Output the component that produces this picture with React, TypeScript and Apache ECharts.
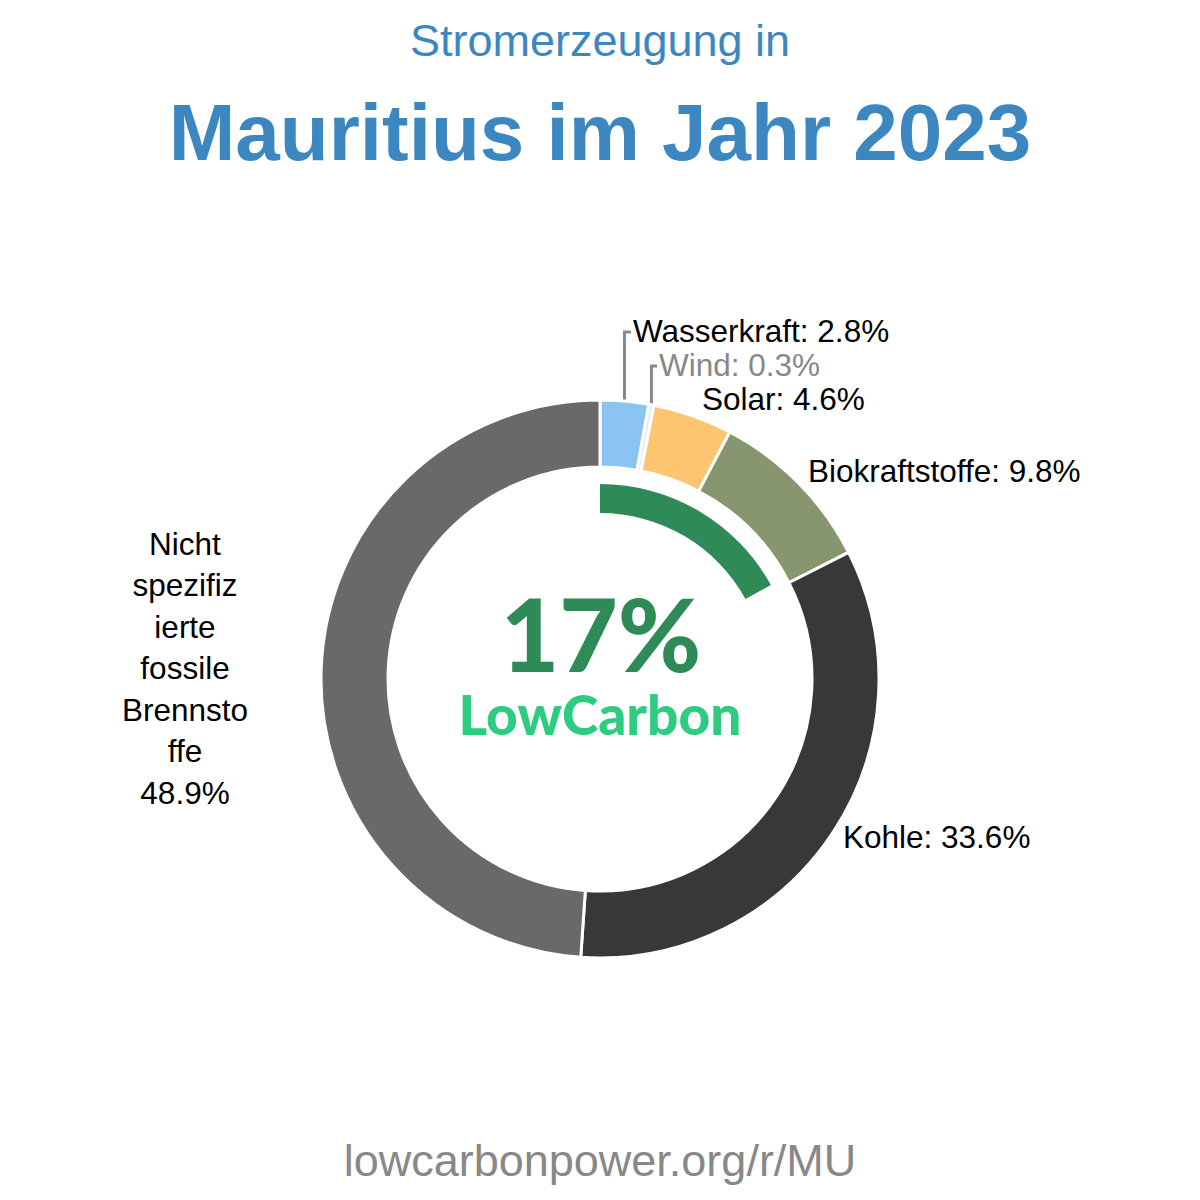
import React, { useEffect, useRef } from "react";
import * as echarts from "echarts";

const categories = [
  "Wasserkraft",
  "Wind",
  "Solar",
  "Biokraftstoffe",
  "Kohle",
  "Nicht spezifizierte fossile Brennstoffe",
];
const shares = [2.8, 0.3, 4.6, 9.8, 33.6, 48.9];
const colors = ["#8bc4f2", "#dcedfb", "#fec571", "#87966e", "#383838", "#696969"];
const labelColors = ["#000", "#888", "#000", "#000", "#000", "#000"];
const wrappedNames = ["", "", "", "", "", "Nicht\nspezifiz\nierte\nfossile\nBrennsto\nffe"];
const lowCarbonShare = 17;

const titleTop = "Stromerzeugung in";
const titleMain = "Mauritius im Jahr 2023";
const footer = "lowcarbonpower.org/r/MU";

const CX = 600;
const CY = 679;
const R_OUT = 279;
const R_IN = 212;

// label anchor positions (style, not data)
const labelPos: [number, number, string][] = [
  [633, 331, "left"],
  [659, 365, "left"],
  [702, 399, "left"],
  [808, 471, "left"],
  [843, 837, "left"],
  [185, 668, "center"],
];
const showLine = [true, true, false, false, false, false];

export default function App() {
  const ref = useRef<HTMLDivElement>(null);
  useEffect(() => {
    if (!ref.current) return;
    const chart = echarts.init(ref.current, undefined, { renderer: "svg" });
    const total = shares.reduce((a, b) => a + b, 0);
    const cum: number[] = [];
    let acc = 0;
    shares.forEach((v) => {
      cum.push(acc + v / 2);
      acc += v;
    });
    const option: any = {
      animation: false,
      backgroundColor: "#fff",
      graphic: [
        {
          type: "text",
          x: 600,
          y: 40,
          style: {
            text: titleTop,
            fill: "#3d87c0",
            font: "45px 'Liberation Sans', Arial, sans-serif",
            align: "center",
            verticalAlign: "middle",
          },
        },
        {
          type: "text",
          x: 600,
          y: 132,
          style: {
            text: titleMain,
            fill: "#3d87c0",
            font: "bold 80px 'Liberation Sans', Arial, sans-serif",
            align: "center",
            verticalAlign: "middle",
          },
        },
        {
          type: "text",
          x: 601,
          y: 633,
          style: {
            text: lowCarbonShare + "%",
            fill: "#2e8b57",
            font: "900 101px Lato, sans-serif",
            lineHeight: 88,
            align: "center",
            verticalAlign: "middle",
          },
        },
        {
          type: "text",
          x: 600,
          y: 714,
          style: {
            text: "LowCarbon",
            fill: "#2ecc80",
            font: "900 55px Lato, sans-serif",
            lineHeight: 48,
            align: "center",
            verticalAlign: "middle",
          },
        },
        {
          type: "text",
          x: 600,
          y: 1160,
          style: {
            text: footer,
            fill: "#888",
            font: "45px 'Liberation Sans', Arial, sans-serif",
            align: "center",
            verticalAlign: "middle",
          },
        },
      ],
      series: [
        {
          type: "pie",
          center: [CX, CY],
          radius: [R_IN, R_OUT],
          startAngle: 90,
          clockwise: true,
          avoidLabelOverlap: false,
          itemStyle: { borderColor: "#fff", borderWidth: 3 },
          label: {
            show: true,
            position: "outside",
            fontFamily: "'Liberation Sans', Arial, sans-serif",
            fontSize: 31.5,
            lineHeight: 41.5,
            formatter: (p: any) => {
              const i = p.dataIndex;
              if (wrappedNames[i]) return wrappedNames[i] + "\n" + shares[i].toFixed(1) + "%";
              return categories[i] + ": " + shares[i].toFixed(1) + "%";
            },
          },
          labelLine: { show: false, lineStyle: { color: "#888", width: 3 } },
          labelLayout: (params: any) => {
            const i = params.dataIndex;
            const [lx, ly, al] = labelPos[i];
            const res: any = { x: lx, y: ly, align: al, verticalAlign: "middle" };
            if (showLine[i]) {
              const a = (cum[i] / total) * Math.PI * 2;
              const px = CX + R_OUT * Math.sin(a);
              const py = CY - R_OUT * Math.cos(a);
              res.labelLinePoints = [
                [px, py],
                [px, ly + 1],
                [lx - 2, ly + 1],
              ];
            }
            return res;
          },
          data: categories.map((c, i) => ({
            name: c,
            value: shares[i],
            itemStyle: { color: colors[i] },
            label: { color: labelColors[i] },
            labelLine: { show: showLine[i] },
          })),
        },
        {
          type: "pie",
          center: [CX, CY],
          radius: [166, 195],
          startAngle: 90,
          clockwise: true,
          silent: true,
          label: { show: false },
          labelLine: { show: false },
          data: [
            { value: lowCarbonShare, itemStyle: { color: "#2e8b57" } },
            { value: 100 - lowCarbonShare, itemStyle: { color: "rgba(0,0,0,0)" } },
          ],
        },
      ],
    };
    chart.setOption(option);
    return () => chart.dispose();
  }, []);
  return (
    <div
      ref={ref}
      style={{ position: "absolute", left: 0, top: 0, width: 1200, height: 1200 }}
    />
  );
}
